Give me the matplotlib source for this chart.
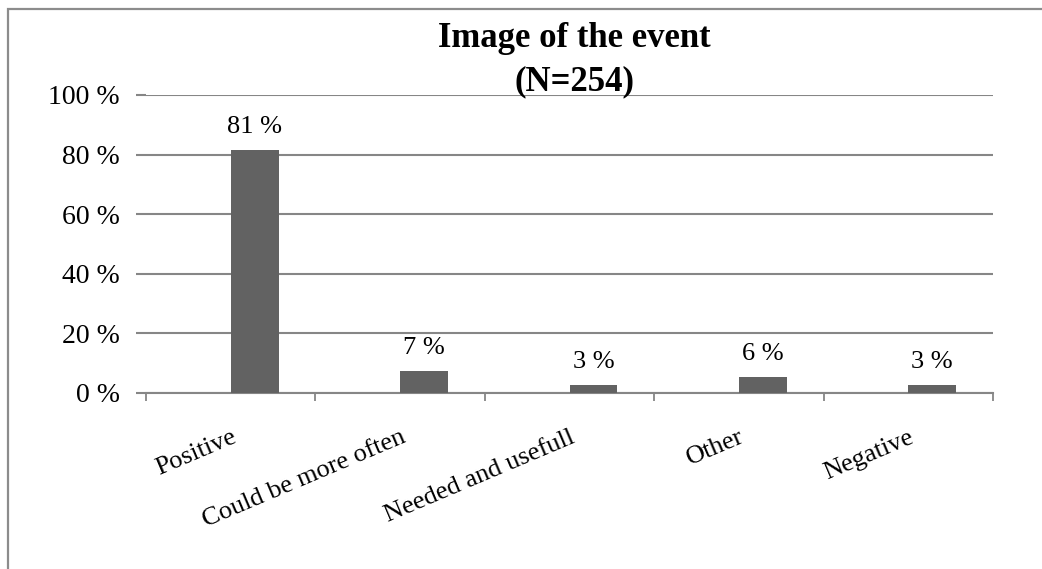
import numpy as np
import matplotlib.pyplot as plt
import matplotlib.patches as mpatches

# ── data ──────────────────────────────────────────────────────────────────────
categories = ["Positive", "Could be more often", "Needed and usefull", "Other", "Negative"]
counts = [207, 19, 7, 14, 7]
n_total = 254
y_ticks = [0, 20, 40, 60, 80, 100]

shares = np.array(counts) / n_total * 100

# ── style ─────────────────────────────────────────────────────────────────────
plt.rcParams["font.family"] = ["Liberation Serif", "DejaVu Serif"]
GRID = "#868686"
BAR = "#626262"
FS = 19

fig = plt.figure(figsize=(10.42, 5.69), dpi=100)
fig.patch.set_facecolor("white")

# chart-area frame (runs off the right and bottom edges)
frame = mpatches.Rectangle((8 / 1042, -0.1), 1.2, 1.1 - 9 / 569,
                           transform=fig.transFigure, fill=False,
                           edgecolor="#8c8c8c", linewidth=1.6, zorder=0)
fig.patches.append(frame)

ax = fig.add_axes([146 / 1042, 1 - 393 / 569, 847 / 1042, 298 / 569])

x = np.arange(len(categories))
bar_w = 0.283
ax.bar(x, shares, width=bar_w, align="edge", color=BAR, zorder=3)

for xi, v in zip(x, shares):
    ax.annotate(f"{v:.0f} %", (xi + bar_w / 2, v), textcoords="offset points",
                xytext=(0, 12), ha="center", va="baseline", fontsize=FS)

ax.set_xlim(-0.5, len(categories) - 0.5)
ax.set_ylim(0, 100)
ax.set_yticks(y_ticks)
ax.set_yticklabels([f"{t} %" for t in y_ticks], fontsize=20)
ax.yaxis.grid(True, color=GRID, linewidth=1.5, zorder=0)
ax.set_axisbelow(True)

# category boundaries carry the tick marks, labels sit at the centres
ax.set_xticks(np.arange(-0.5, len(categories)))
ax.set_xticklabels([])
ax.set_xticks(x, minor=True)
ax.set_xticklabels(categories, minor=True, rotation=23, ha="right",
                   va="top", rotation_mode="anchor", fontsize=FS)
ax.tick_params(axis="x", which="major", direction="out", length=6,
               width=1.3, color=GRID)
ax.tick_params(axis="x", which="minor", length=0, pad=24)
ax.tick_params(axis="y", direction="out", length=7, width=1.5,
               color=GRID, pad=12)

for side in ["top", "right", "left"]:
    ax.spines[side].set_visible(False)
ax.spines["bottom"].set_color(GRID)
ax.spines["bottom"].set_linewidth(1.5)

title_x = 574 / 1042
fig.text(title_x, 1 - 47 / 569, "Image of the event", ha="center",
         va="baseline", fontsize=25, fontweight="bold")
fig.text(title_x, 1 - 90 / 569, f"(N={n_total})", ha="center",
         va="baseline", fontsize=25, fontweight="bold")

fig.savefig("out.png", dpi=100, facecolor=fig.get_facecolor())
